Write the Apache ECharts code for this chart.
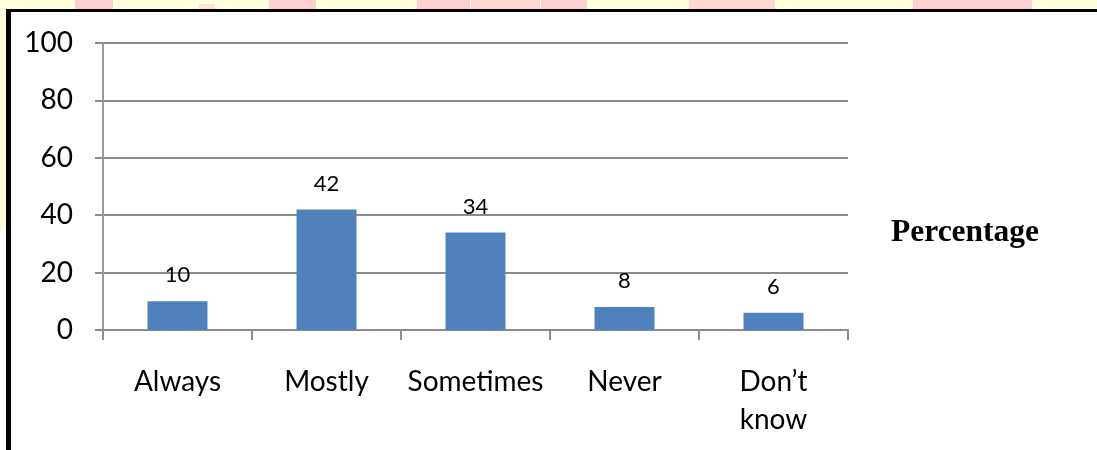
<!DOCTYPE html>
<html>
<head>
<meta charset="utf-8">
<title>Percentage</title>
<script src="https://cdn.jsdelivr.net/npm/echarts@6/dist/echarts.min.js"></script>
<style>
  html, body { margin: 0; padding: 0; background: #ffffff; }
  #chart { width: 1097px; height: 450px; }
</style>
</head>
<body>
<div id="chart"></div>
<script>
// Survey responses (percent of respondents)
const categories = ['Always', 'Mostly', 'Sometimes', 'Never', 'Don’t know'];
const percentages = [10, 42, 34, 8, 6];
const yTicks = [0, 20, 40, 60, 80, 100];
const seriesName = 'Percentage';

const chart = echarts.init(document.getElementById('chart'), null, { renderer: 'canvas' });

// Page decoration around the framed chart: pale strip with faint pink marks, black frame
const pale = '#ffffdc';
const pink = '#ffcfcf';
const bg = [
  { type: 'rect', shape: { x: 0, y: 0, width: 1097, height: 9 }, style: { fill: pale } },
  { type: 'rect', shape: { x: 0, y: 0, width: 7, height: 227 }, style: { fill: pale } },
  { type: 'rect', shape: { x: 75, y: 0, width: 38, height: 9 }, style: { fill: pink } },
  { type: 'rect', shape: { x: 199, y: 4, width: 16, height: 5 }, style: { fill: '#fbe6cc' } },
  { type: 'rect', shape: { x: 269, y: 0, width: 47, height: 9 }, style: { fill: pink } },
  { type: 'rect', shape: { x: 417, y: 0, width: 53, height: 9 }, style: { fill: pink } },
  { type: 'rect', shape: { x: 471, y: 0, width: 69, height: 9 }, style: { fill: '#ffd8d4' } },
  { type: 'rect', shape: { x: 541, y: 0, width: 46, height: 9 }, style: { fill: pink } },
  { type: 'rect', shape: { x: 689, y: 0, width: 86, height: 9 }, style: { fill: '#ffd6d0' } },
  { type: 'rect', shape: { x: 913, y: 0, width: 119, height: 9 }, style: { fill: pink } },
  { type: 'rect', shape: { x: 6, y: 9, width: 1091, height: 3 }, style: { fill: '#000000' } },
  { type: 'rect', shape: { x: 6, y: 9, width: 5, height: 441 }, style: { fill: '#000000' } }
];

const gridGray = '#8c8c8c';
const labelFont = 'Lato, "Open Sans", sans-serif';

chart.setOption({
  animation: false,
  backgroundColor: '#ffffff',
  graphic: { elements: bg.map(e => Object.assign({ z: -10, silent: true }, e)) },
  grid: { left: 103, right: 249, top: 43, bottom: 120, containLabel: false },
  legend: {
    data: [seriesName],
    left: 886,
    top: 217,
    padding: 0,
    icon: 'none',
    itemWidth: 0,
    itemHeight: 0,
    selectedMode: false,
    textStyle: {
      fontFamily: '"Liberation Serif", "Times New Roman", serif',
      fontWeight: 'bold',
      fontSize: 31.5,
      color: '#000000'
    }
  },
  xAxis: {
    type: 'category',
    data: categories,
    boundaryGap: true,
    axisLine: { show: true, lineStyle: { color: gridGray, width: 2 } },
    axisTick: { show: true, length: 10, lineStyle: { color: gridGray, width: 2 } },
    axisLabel: {
      color: '#000000',
      fontFamily: labelFont,
      fontSize: 28,
      lineHeight: 38,
      margin: 33,
      interval: 0,
      formatter: v => v.replace(' ', '\n')
    }
  },
  yAxis: {
    type: 'value',
    min: yTicks[0],
    max: yTicks[yTicks.length - 1],
    interval: yTicks[1] - yTicks[0],
    axisLine: { show: true, lineStyle: { color: '#9a9a9a', width: 2 } },
    axisTick: { show: true, length: 8, lineStyle: { color: gridGray, width: 2 } },
    splitLine: { show: true, lineStyle: { color: gridGray, width: 2 } },
    axisLabel: {
      color: '#000000',
      fontFamily: labelFont,
      fontSize: 28,
      margin: 30
    }
  },
  series: [{
    name: seriesName,
    type: 'bar',
    data: percentages,
    barWidth: 60,
    itemStyle: { color: '#4f81bd' },
    label: {
      show: true,
      position: 'top',
      distance: 15,
      color: '#000000',
      fontFamily: labelFont,
      fontSize: 22
    }
  }]
});
</script>
</body>
</html>
